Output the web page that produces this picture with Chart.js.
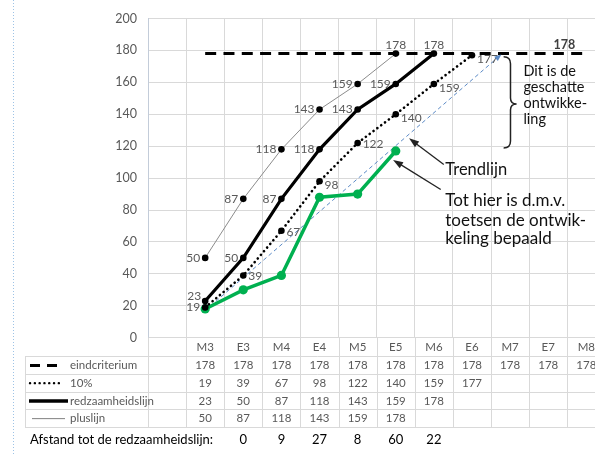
<!DOCTYPE html>
<html><head><meta charset="utf-8">
<script src="https://cdn.jsdelivr.net/npm/chart.js@4.4.1/dist/chart.umd.min.js"></script>
<style>
html,body{margin:0;padding:0;background:#fff;overflow:hidden;width:595px;height:454px}
#wrap{width:610px;height:454px;position:relative}
</style>
</head><body><div id="wrap"><canvas id="c" width="610" height="454"></canvas></div>
<script>
// ---------- DATA ----------
const categories = ['', 'M3', 'E3', 'M4', 'E4', 'M5', 'E5', 'M6', 'E6', 'M7', 'E7', 'M8'];
const yTickValues = [0, 20, 40, 60, 80, 100, 120, 140, 160, 180, 200];
const eindcriterium    = [null, 178, 178, 178, 178, 178, 178, 178, 178, 178, 178, 178];
const tienProcent      = [null, 19, 39, 67, 98, 122, 140, 159, 177, null, null, null];
const redzaamheidslijn = [null, 23, 50, 87, 118, 143, 159, 178, null, null, null, null];
const pluslijn         = [null, 50, 87, 118, 143, 159, 178, null, null, null, null, null];
const toetsResultaten  = [null, 18, 30, 39, 88, 90, 117];
const trendlijnCat     = [1, 8.77];     // category position (index)
const trendlijnVal     = [17, 177.5];
const afstand          = [null, null, 0, 9, 27, 8, 60, 22, null, null, null, null];
const afstandTitel = 'Afstand tot de redzaamheidslijn:';
const seriesNames = ['eindcriterium', '10%', 'redzaamheidslijn', 'pluslijn'];

// ---------- helpers ----------
const pts = arr => arr.map((v, i) => v == null ? null : {x: i + 0.5, y: v}).filter(Boolean);
const FONT = 'Lato, "Open Sans", sans-serif';
const GRAY = '#595959';
const GRID = '#d9d9d9';

const labelPlacement = {
  0: {last: 'eind'},
  1: ['left', 'right', 'right', 'rightLow', 'right', 'rightLow', 'rightLow', 'rightLow'],
  2: ['leftUp', 'left', 'left', 'left', 'left', 'left', 'above'],
  3: ['left', 'left', 'left', 'left', 'left', 'above']
};

function arrow(ctx, x0, y0, x1, y1, head, w, color) {
  const ang = Math.atan2(y1 - y0, x1 - x0);
  ctx.save();
  ctx.strokeStyle = color; ctx.fillStyle = color; ctx.lineWidth = 1.3;
  ctx.beginPath(); ctx.moveTo(x0, y0);
  ctx.lineTo(x1 - Math.cos(ang) * head * 0.8, y1 - Math.sin(ang) * head * 0.8); ctx.stroke();
  ctx.beginPath();
  ctx.moveTo(x1, y1);
  ctx.lineTo(x1 - Math.cos(ang) * head + Math.sin(ang) * w / 2, y1 - Math.sin(ang) * head - Math.cos(ang) * w / 2);
  ctx.lineTo(x1 - Math.cos(ang) * head - Math.sin(ang) * w / 2, y1 - Math.sin(ang) * head + Math.cos(ang) * w / 2);
  ctx.closePath(); ctx.fill();
  ctx.restore();
}

const overlay = {
  id: 'overlay',
  beforeDraw(chart) {
    const ctx = chart.ctx;
    ctx.save();
    ctx.fillStyle = '#fff'; ctx.fillRect(0, 0, chart.width, chart.height);
    ctx.strokeStyle = '#9dc3e6'; ctx.lineWidth = 1; ctx.setLineDash([1, 2]);
    ctx.beginPath(); ctx.moveTo(13.5, 0); ctx.lineTo(13.5, chart.height); ctx.stroke();
    ctx.restore();
  },
  afterDraw(chart) {
    const ctx = chart.ctx, a = chart.chartArea, xs = chart.scales.x, ys = chart.scales.y;
    const cx = i => xs.getPixelForValue(i + 0.5);
    const X = v => xs.getPixelForValue(v), Y = v => ys.getPixelForValue(v);
    ctx.save();
    // ----- table grid -----
    const rowsY = [356, 373.75, 391.5, 409.25, 427];
    ctx.strokeStyle = GRID; ctx.lineWidth = 1; ctx.setLineDash([]);
    for (let k = 0; k <= categories.length; k++) {
      const x = Math.round(xs.getPixelForValue(k)) + 0.5;
      ctx.beginPath(); ctx.moveTo(x, a.bottom); ctx.lineTo(x, rowsY[rowsY.length - 1]); ctx.stroke();
    }
    ctx.beginPath(); ctx.moveTo(25.5, rowsY[0]); ctx.lineTo(25.5, rowsY[rowsY.length - 1]); ctx.stroke();
    rowsY.forEach(y => { ctx.beginPath(); ctx.moveTo(25, Math.round(y) + 0.5); ctx.lineTo(chart.width, Math.round(y) + 0.5); ctx.stroke(); });
    // header
    ctx.fillStyle = GRAY; ctx.font = '11.5px ' + FONT; ctx.textAlign = 'center'; ctx.textBaseline = 'middle';
    categories.forEach((c, i) => ctx.fillText(c, cx(i), (a.bottom + rowsY[0]) / 2 + 0.5));
    // rows
    const rowData = [eindcriterium, tienProcent, redzaamheidslijn, pluslijn];
    rowData.forEach((arr, r) => {
      const yc = (rowsY[r] + rowsY[r + 1]) / 2 + 0.5;
      ctx.fillStyle = GRAY; ctx.textAlign = 'center';
      arr.forEach((v, i) => { if (v != null) ctx.fillText(String(v), cx(i), yc); });
      ctx.textAlign = 'left';
      ctx.fillText(seriesNames[r], 70, yc);
      // legend key
      ctx.save(); ctx.strokeStyle = '#000';
      ctx.beginPath();
      if (r === 0) { ctx.lineWidth = 3; ctx.setLineDash([10, 7]); ctx.moveTo(30, yc); ctx.lineTo(59, yc); }
      if (r === 1) { ctx.lineWidth = 2.4; ctx.lineCap = 'round'; ctx.setLineDash([0.1, 4.7]); ctx.moveTo(30, yc); ctx.lineTo(63, yc); }
      if (r === 2) { ctx.lineWidth = 3.5; ctx.moveTo(29, yc); ctx.lineTo(68, yc); }
      if (r === 3) { ctx.lineWidth = 1; ctx.strokeStyle = '#808080'; ctx.moveTo(32, yc); ctx.lineTo(65, yc); }
      ctx.stroke(); ctx.restore();
    });
    // afstand row
    ctx.fillStyle = '#000'; ctx.font = '13px ' + FONT; ctx.textAlign = 'left';
    ctx.fillText(afstandTitel, 30, 440);
    ctx.textAlign = 'center'; ctx.font = '13px ' + FONT;
    afstand.forEach((v, i) => { if (v != null) ctx.fillText(String(v), cx(i), 440); });

    // ----- data labels -----
    ctx.textBaseline = 'middle';
    chart.data.datasets.forEach((ds, di) => {
      const pl = labelPlacement[di]; if (!pl) return;
      const meta = chart.getDatasetMeta(di);
      meta.data.forEach((p, k) => {
        const v = ds.data[k].y;
        let pos = Array.isArray(pl) ? pl[k] : (k === meta.data.length - 1 ? pl.last : null);
        if (!pos) return;
        ctx.fillStyle = GRAY; ctx.font = '12px ' + FONT;
        if (pos === 'left') { ctx.textAlign = 'right'; ctx.fillText(v, p.x - 5, p.y); }
        else if (pos === 'leftUp') { ctx.textAlign = 'right'; ctx.fillText(v, p.x - 4, p.y - 5); }
        else if (pos === 'right') { ctx.textAlign = 'left'; ctx.fillText(v, p.x + 5, p.y + 1); }
        else if (pos === 'rightLow') { ctx.textAlign = 'left'; ctx.fillText(v, p.x + 5, p.y + 4); }
        else if (pos === 'above') { ctx.textAlign = 'center'; ctx.fillText(v, p.x, p.y - 8); }
        else if (pos === 'eind') { ctx.textAlign = 'right'; ctx.fillStyle = '#404040'; ctx.font = 'bold 12.5px ' + FONT; ctx.fillText(v, p.x - 11, p.y - 9); }
      });
    });

    // ----- trend arrow head -----
    const tm = chart.getDatasetMeta(5).data;
    if (tm.length === 2) {
      const p0 = tm[0], p1 = tm[1];
      const ang = Math.atan2(p1.y - p0.y, p1.x - p0.x);
      ctx.fillStyle = '#5b8ac6'; ctx.beginPath();
      ctx.moveTo(p1.x, p1.y);
      ctx.lineTo(p1.x - Math.cos(ang) * 7 + Math.sin(ang) * 2.8, p1.y - Math.sin(ang) * 7 - Math.cos(ang) * 2.8);
      ctx.lineTo(p1.x - Math.cos(ang) * 7 - Math.sin(ang) * 2.8, p1.y - Math.sin(ang) * 7 + Math.cos(ang) * 2.8);
      ctx.closePath(); ctx.fill();
    }

    // ----- annotations (in data coordinates) -----
    arrow(ctx, X(7.76), Y(108.5), X(6.85), Y(124.9), 10, 7, '#222');
    arrow(ctx, X(7.68), Y(92.9), X(6.43), Y(111.4), 10, 7, '#222');
    ctx.fillStyle = '#111'; ctx.textAlign = 'left'; ctx.textBaseline = 'middle';
    ctx.font = '16.5px ' + FONT;
    ctx.fillText('Trendlijn', X(7.8), Y(105.4));
    ctx.font = '17px ' + FONT;
    ['Tot hier is d.m.v.', 'toetsen de ontwik-', 'keling bepaald'].forEach((t, i) => ctx.fillText(t, X(7.8), Y([85.9, 73.6, 62.2][i])));
    ctx.font = '14.5px ' + FONT;
    ['Dit is de', 'geschatte', 'ontwikke-', 'ling'].forEach((t, i) => ctx.fillText(t, X(9.85), Y([167, 157, 146.9, 136.6][i])));
    // brace
    const xe = X(9.33), xm = X(9.51), xt = X(9.67), yt = Y(176.1), ym = Y(146.5), yb = Y(118.8);
    ctx.strokeStyle = '#222'; ctx.lineWidth = 1.5; ctx.setLineDash([]);
    ctx.beginPath();
    ctx.moveTo(xe, yt);
    ctx.quadraticCurveTo(xm, yt, xm, yt + 7);
    ctx.lineTo(xm, ym - 6);
    ctx.quadraticCurveTo(xm, ym, xt, ym);
    ctx.quadraticCurveTo(xm, ym, xm, ym + 6);
    ctx.lineTo(xm, yb - 7);
    ctx.quadraticCurveTo(xm, yb, xe, yb);
    ctx.stroke();
    ctx.restore();
  }
};

new Chart(document.getElementById('c'), {
  type: 'line',
  data: {
    datasets: [
      {label: 'eindcriterium', data: pts(eindcriterium), borderColor: '#000', borderWidth: 3, borderDash: [11, 7.3], pointRadius: 0, order: 0},
      {label: '10%', data: pts(tienProcent), borderColor: '#000', borderWidth: 2.6, borderDash: [0.1, 4.7], borderCapStyle: 'round', pointRadius: 3.3, pointBackgroundColor: '#000', pointBorderWidth: 0, order: 2},
      {label: 'redzaamheidslijn', data: pts(redzaamheidslijn), borderColor: '#000', borderWidth: 3.2, pointRadius: 3.3, pointBackgroundColor: '#000', pointBorderWidth: 0, order: 1},
      {label: 'pluslijn', data: pts(pluslijn), borderColor: '#8c8c8c', borderWidth: 1, pointRadius: 3.3, pointBackgroundColor: '#000', pointBorderWidth: 0, order: 3},
      {label: 'toetsen', data: pts(toetsResultaten), borderColor: '#00b050', borderWidth: 3.5, pointRadius: 4.6, pointBackgroundColor: '#00b050', pointBorderWidth: 0, order: 4},
      {label: 'trendlijn', data: trendlijnCat.map((c, i) => ({x: c + 0.5, y: trendlijnVal[i]})), borderColor: '#5b8ac6', borderWidth: 1, borderDash: [4, 3], pointRadius: 0, order: 5}
    ]
  },
  options: {
    responsive: false, animation: false, devicePixelRatio: 1,
    layout: {padding: {left: 0, right: 2.7, top: 13.3, bottom: 116.3}},
    plugins: {legend: {display: false}, tooltip: {enabled: false}},
    elements: {line: {tension: 0}},
    scales: {
      x: {type: 'linear', min: 0, max: categories.length,
          ticks: {display: false, stepSize: 1},
          grid: {color: GRID, drawTicks: false}, border: {display: false},
          afterFit(s) { s.height = 0; }},
      y: {min: 0, max: 200,
          afterBuildTicks(s) { s.ticks = yTickValues.map(v => ({value: v})); },
          ticks: {color: GRAY, font: {family: FONT, size: 12.5}, padding: 11},
          grid: {color: GRID, drawTicks: false}, border: {color: '#c3ccd9'},
          afterFit(s) { s.width = 148; }}
    }
  },
  plugins: [overlay]
});
</script>
</body></html>
